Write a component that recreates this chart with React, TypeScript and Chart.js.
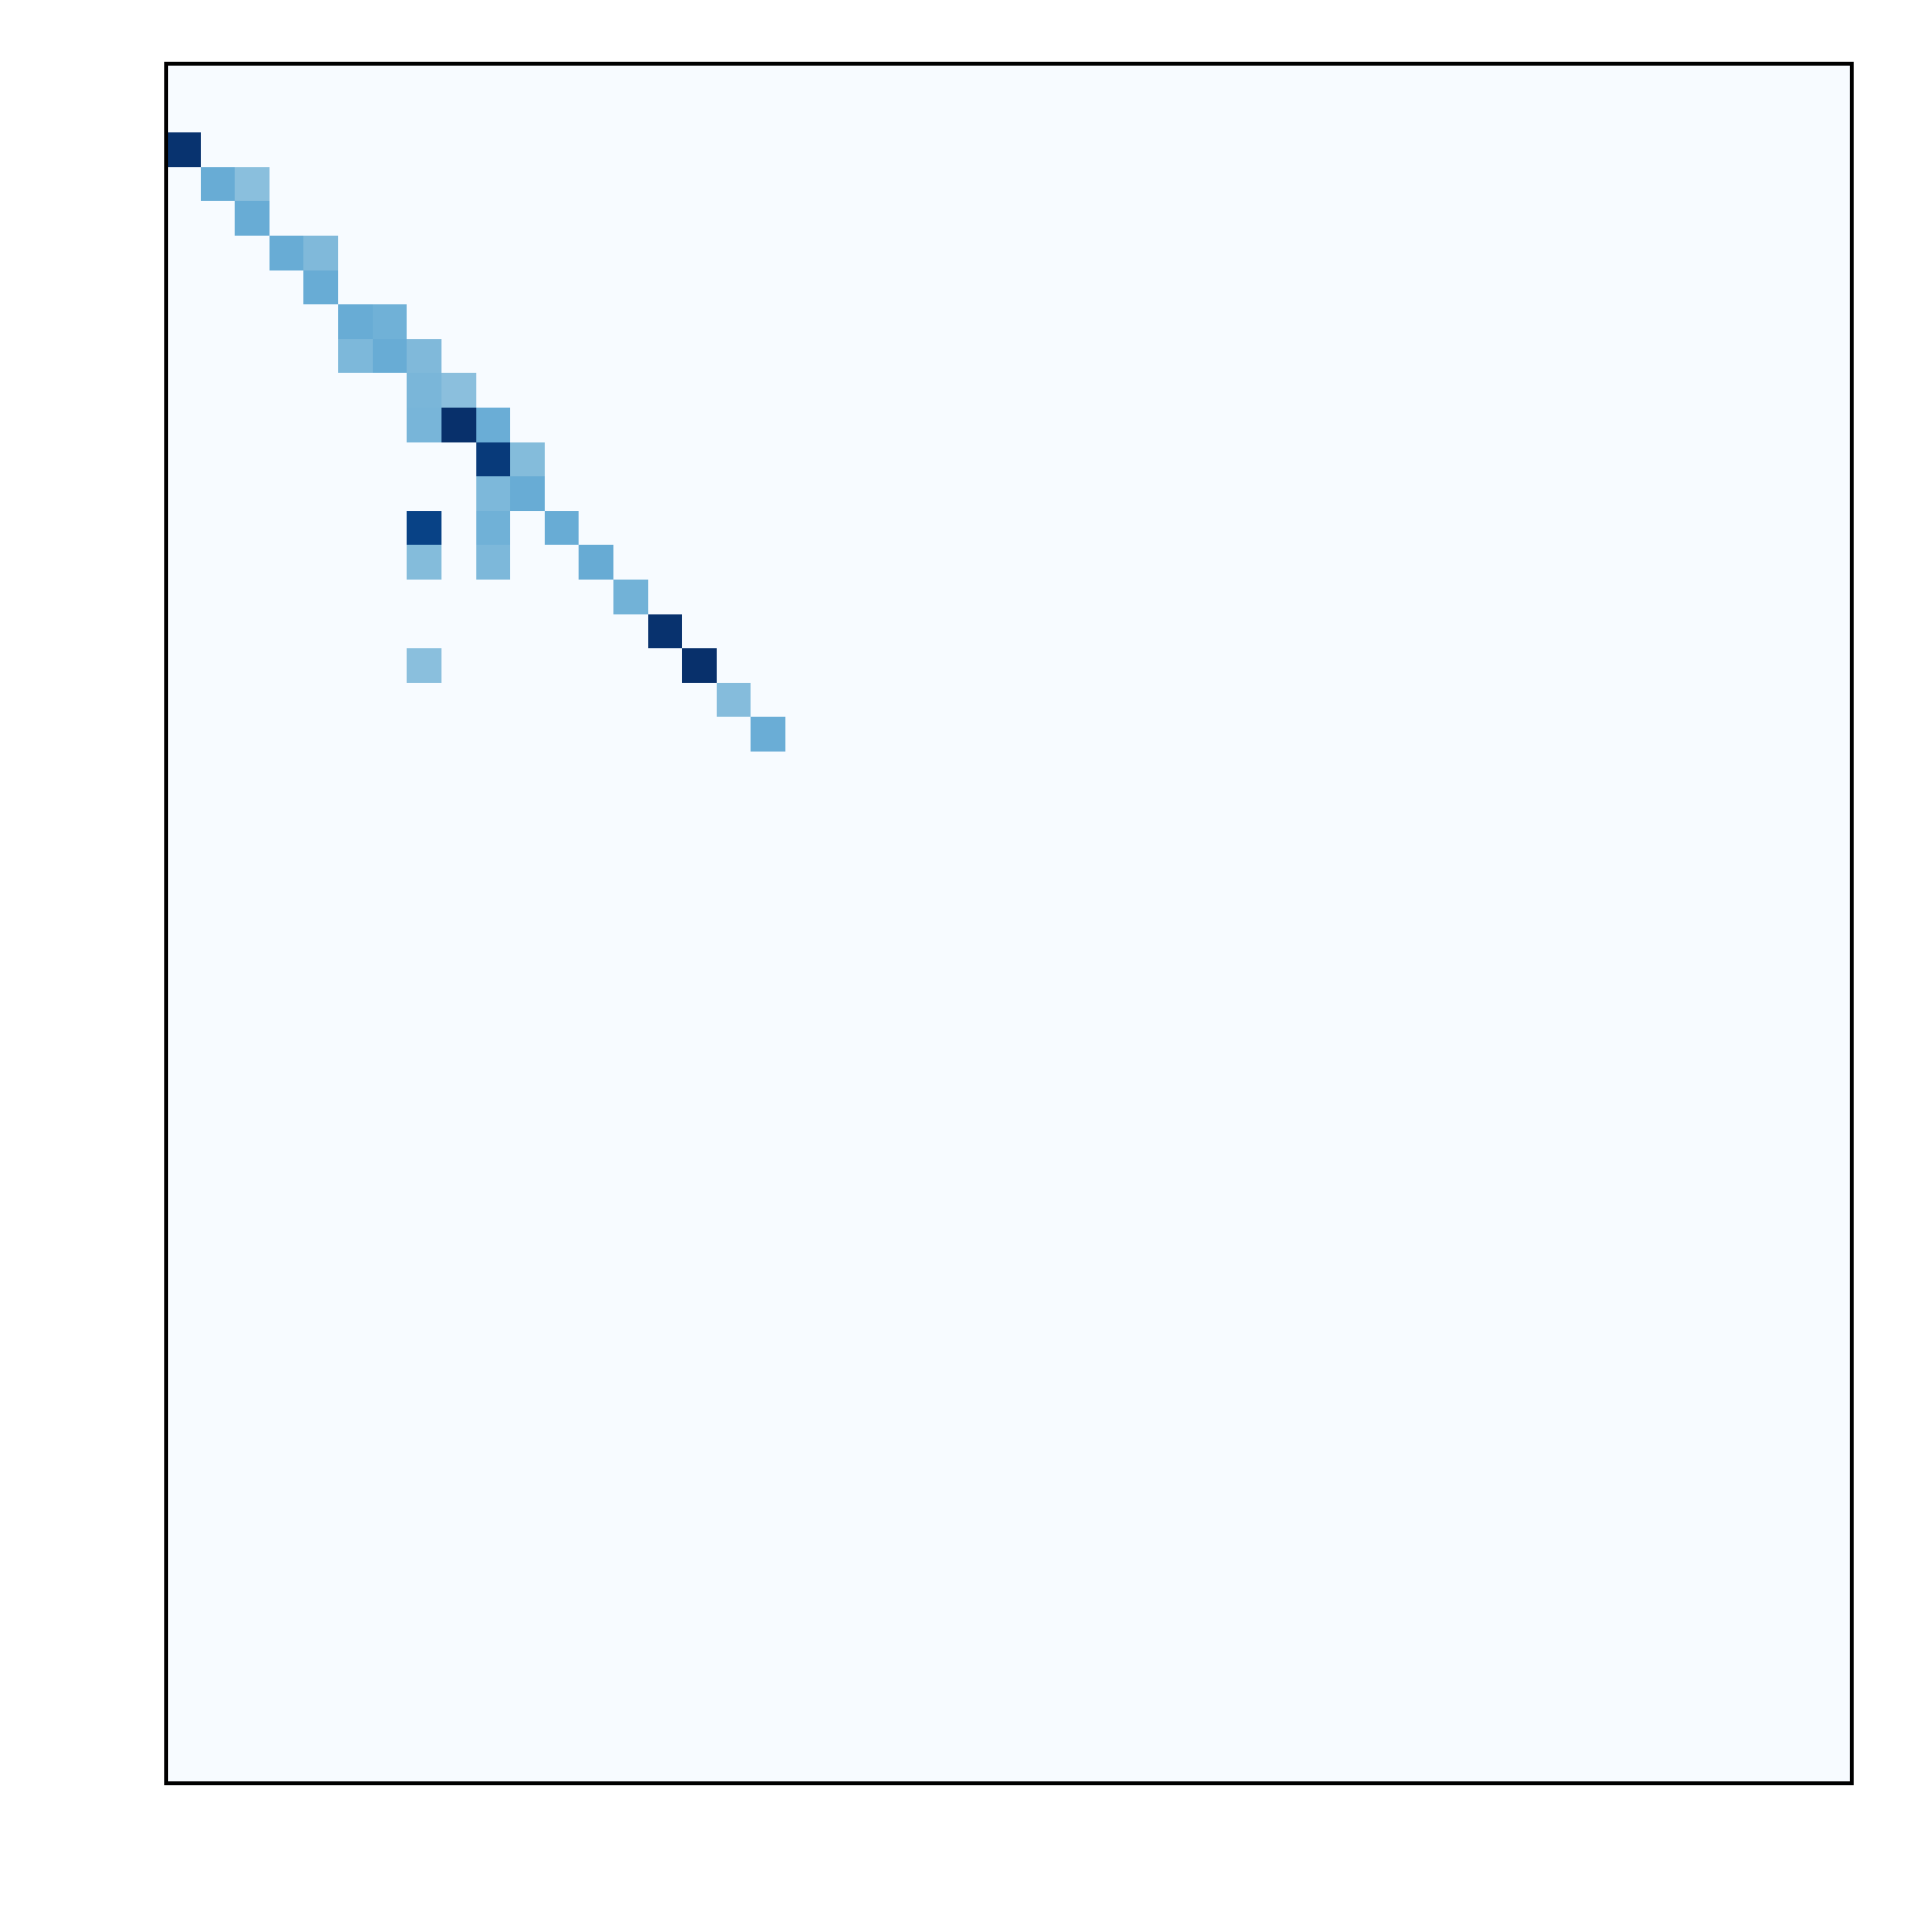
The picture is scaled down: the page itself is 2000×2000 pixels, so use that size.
import React, { useEffect, useRef } from "react";
import { Chart, registerables } from "chart.js";

Chart.register(...registerables);

// Grid size (rows top→bottom, columns left→right)
const rowCount = 50;
const colCount = 49;

// Non-background cells of the matrix (all other cells are 0)
const cellRows = [2, 3, 3, 4, 5, 5, 6, 7, 7, 8, 8, 8, 9, 9, 10, 10, 10, 11, 11, 12, 12, 13, 13, 13, 14, 14, 14, 15, 16, 17, 17, 18, 19];
const cellCols = [0, 1, 2, 2, 3, 4, 4, 5, 6, 5, 6, 7, 7, 8, 7, 8, 9, 9, 10, 9, 10, 7, 9, 11, 7, 9, 12, 13, 14, 7, 15, 16, 17];
const cellValues = [
  0.99,
  0.51, 0.424,
  0.51,
  0.51, 0.449,
  0.51,
  0.51, 0.488,
  0.456, 0.51, 0.449,
  0.463, 0.422,
  0.468, 1.0, 0.503,
  0.962, 0.439,
  0.456, 0.508,
  0.932, 0.488, 0.51,
  0.439, 0.456, 0.512,
  0.483,
  0.992,
  0.424, 1.0,
  0.436,
  0.503,
];

// Matplotlib "Blues" colormap stops
const bluesStops = [
  [247, 251, 255],
  [222, 235, 247],
  [198, 219, 239],
  [158, 202, 225],
  [107, 174, 214],
  [66, 146, 198],
  [33, 113, 181],
  [8, 81, 156],
  [8, 48, 107],
];

function blues(v: number): string {
  const t = Math.max(0, Math.min(1, v)) * (bluesStops.length - 1);
  const i = Math.min(bluesStops.length - 2, Math.floor(t));
  const f = t - i;
  const a = bluesStops[i];
  const b = bluesStops[i + 1];
  const c = a.map((av, k) => Math.round(av + (b[k] - av) * f));
  return `rgb(${c[0]},${c[1]},${c[2]})`;
}

function buildPoints() {
  const grid: number[][] = [];
  for (let r = 0; r < rowCount; r++) {
    grid.push(new Array(colCount).fill(0));
  }
  cellRows.forEach((r, i) => {
    grid[r][cellCols[i]] = cellValues[i];
  });
  const pts: { x: number; y: number; v: number }[] = [];
  for (let r = 0; r < rowCount; r++) {
    for (let c = 0; c < colCount; c++) {
      pts.push({ x: c + 0.5, y: r + 0.5, v: grid[r][c] });
    }
  }
  return pts;
}

const heatmapPlugin = {
  id: "heatmapCells",
  beforeDatasetsDraw(chart: any) {
    const { ctx, scales } = chart;
    const xs = scales.x;
    const ys = scales.y;
    const data = chart.data.datasets[0].data as { x: number; y: number; v: number }[];
    ctx.save();
    for (const p of data) {
      const x0 = Math.round(xs.getPixelForValue(p.x - 0.5));
      const x1 = Math.round(xs.getPixelForValue(p.x + 0.5));
      const y0 = Math.round(ys.getPixelForValue(p.y - 0.5));
      const y1 = Math.round(ys.getPixelForValue(p.y + 0.5));
      ctx.fillStyle = blues(p.v);
      ctx.fillRect(Math.min(x0, x1), Math.min(y0, y1), Math.abs(x1 - x0), Math.abs(y1 - y0));
    }
    ctx.restore();
  },
  afterDraw(chart: any) {
    const { ctx, chartArea } = chart;
    ctx.save();
    ctx.strokeStyle = "#000000";
    ctx.lineWidth = 4;
    ctx.strokeRect(chartArea.left, chartArea.top, chartArea.right - chartArea.left, chartArea.bottom - chartArea.top);
    ctx.restore();
  },
};

export default function App() {
  const canvasRef = useRef<HTMLCanvasElement | null>(null);

  useEffect(() => {
    document.body.style.margin = "0";
    const canvas = canvasRef.current;
    if (!canvas) return;
    const chart = new Chart(canvas, {
      type: "scatter",
      data: {
        datasets: [
          {
            data: buildPoints(),
            pointRadius: 0,
            pointHoverRadius: 0,
          },
        ],
      },
      options: {
        responsive: false,
        animation: false,
        devicePixelRatio: 1,
        layout: {
          padding: { left: 172, right: 83, top: 66, bottom: 154 },
        },
        plugins: {
          legend: { display: false },
          tooltip: { enabled: false },
        },
        events: [],
        scales: {
          x: { type: "linear", min: 0, max: colCount, display: false },
          y: { type: "linear", min: 0, max: rowCount, reverse: true, display: false },
        },
      },
      plugins: [heatmapPlugin],
    });
    return () => chart.destroy();
  }, []);

  return (
    <div style={{ width: 2000, height: 2000, background: "#ffffff" }}>
      <canvas ref={canvasRef} width={2000} height={2000} style={{ display: "block" }} />
    </div>
  );
}
